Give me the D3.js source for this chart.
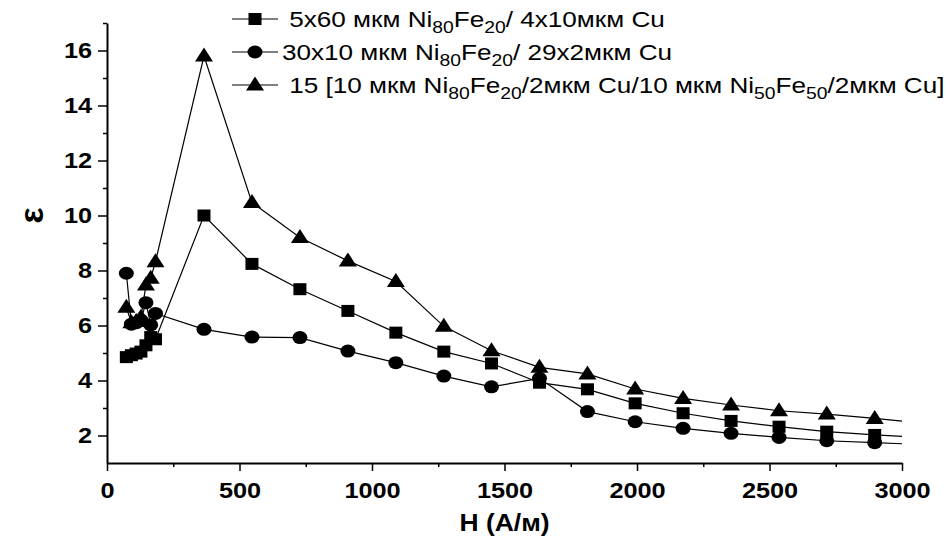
<!DOCTYPE html>
<html>
<head>
<meta charset="utf-8">
<script src="https://cdn.jsdelivr.net/npm/d3@7"></script>
<style>
  body { margin: 0; background: #fff; }
  svg { font-family: "Liberation Sans", Arial, sans-serif; }
</style>
</head>
<body>
<div id="chart"></div>
<script>
// field values, A/m
const hField = [73, 92, 110, 128, 147, 165, 183, 366, 547, 728, 909, 1090, 1271, 1451, 1632, 1813, 1993, 2174, 2355, 2536, 2716, 2897];

// 5x60 мкм Ni80Fe20 / 4x10 мкм Cu
const squareVals = [4.85, 4.92, 4.98, 5.05, 5.28, 5.58, 5.5, 10.0, 8.24, 7.32, 6.53, 5.74, 5.05, 4.62, 3.92, 3.68, 3.17, 2.81, 2.53, 2.32, 2.14, 2.02];
// 30x10 мкм Ni80Fe20 / 29x2 мкм Cu
const circleVals = [7.9, 6.05, 6.1, 6.2, 6.83, 6.02, 6.44, 5.86, 5.58, 5.56, 5.07, 4.65, 4.16, 3.77, 4.08, 2.87, 2.5, 2.26, 2.08, 1.93, 1.81, 1.74];
// 15 [10 мкм Ni80Fe20/2мкм Cu/10 мкм Ni50Fe50/2мкм Cu]
const triangleVals = [6.66, 6.1, 6.15, 6.3, 7.47, 7.72, 8.32, 15.8, 10.47, 9.2, 8.35, 7.6, 5.97, 5.08, 4.48, 4.24, 3.69, 3.35, 3.11, 2.9, 2.78, 2.62];

// lines run on to the end of the axis without a marker
const tailH = 3000;
const tailVals = [1.97, 1.7, 2.52]; // square, circle, triangle

const legendLabels = [
  " 5x60 мкм Ni_80Fe_20/ 4x10мкм Cu",
  "30x10 мкм Ni_80Fe_20/ 29x2мкм Cu",
  " 15 [10 мкм Ni_80Fe_20/2мкм Cu/10 мкм Ni_50Fe_50/2мкм Cu]"
];

const xTicks = [0, 500, 1000, 1500, 2000, 2500, 3000];
const xMinorTicks = [250, 750, 1250, 1750, 2250, 2750];
const yTicks = [2, 4, 6, 8, 10, 12, 14, 16];
const yMinorTicks = [3, 5, 7, 9, 11, 13, 15, 17];

const props = {
  width: 950,
  height: 538,
  top: 23,
  right: 48,
  bottom: 75,
  left: 107,
  stretch: 1.15 // the picture is a bit wider than tall
};

const svg = d3.select("#chart").append("svg")
  .attr("width", props.width)
  .attr("height", props.height);

const width = props.width - props.left - props.right;
const height = props.height - props.top - props.bottom;

const g = svg.append("g")
  .attr("transform", `translate(${props.left},${props.top})`);

const x = d3.scaleLinear().domain([0, 3000]).range([0, width]);
const y = d3.scaleLinear().domain([1, 17]).range([height, 0]);

// marker shapes
const markers = {
  square: sel => sel.append("rect").attr("x", -6.5).attr("y", -6).attr("width", 13).attr("height", 12),
  circle: sel => sel.append("ellipse").attr("rx", 7.5).attr("ry", 6.5),
  triangle: sel => sel.append("path").attr("d", "M0,-8.5L9,5.5L-9,5.5Z")
};

const series = [
  { name: "square", values: squareVals, tail: tailVals[0] },
  { name: "circle", values: circleVals, tail: tailVals[1] },
  { name: "triangle", values: triangleVals, tail: tailVals[2] }
];

// x axis
const xAxis = g.append("g")
  .attr("transform", `translate(0,${height})`)
  .call(d3.axisBottom(x).tickValues(xTicks).tickFormat(d3.format("d"))
    .tickSize(8).tickSizeOuter(0).tickPadding(11));
xAxis.selectAll("text")
  .attr("transform", `scale(${props.stretch},1)`)
  .style("font-size", "22px")
  .style("font-weight", "bold");

g.append("g")
  .attr("transform", `translate(0,${height})`)
  .call(d3.axisBottom(x).tickValues(xMinorTicks).tickSize(4).tickFormat(""))
  .select(".domain").remove();

// y axis
const yAxis = g.append("g")
  .call(d3.axisLeft(y).tickValues(yTicks).tickSize(9).tickSizeOuter(0));
yAxis.selectAll("text")
  .attr("x", -15 / props.stretch)
  .attr("transform", `scale(${props.stretch},1)`)
  .style("font-size", "22px")
  .style("font-weight", "bold");

g.append("g")
  .call(d3.axisLeft(y).tickValues(yMinorTicks).tickSize(4).tickFormat(""))
  .select(".domain").remove();

g.selectAll(".domain").attr("stroke-width", 2);
g.selectAll(".tick line").attr("stroke-width", 1.5);

// axis titles
g.append("text")
  .attr("transform", `translate(${width / 2},${height + 68}) scale(${props.stretch},1)`)
  .style("text-anchor", "middle")
  .style("font-size", "23px")
  .style("font-weight", "bold")
  .text("H (A/м)");

g.append("text")
  .attr("transform", `translate(${31 - props.left},${y(10)}) rotate(-90)`)
  .attr("dy", "0.35em")
  .style("text-anchor", "middle")
  .style("font-size", "34px")
  .style("font-weight", "bold")
  .text("ε");

// lines and markers
const line = d3.line().x(d => x(d[0])).y(d => y(d[1]));

series.forEach(s => {
  const pts = hField.map((h, i) => [h, s.values[i]]);
  g.append("path")
    .attr("fill", "none")
    .attr("stroke", "#000")
    .attr("stroke-width", 1.2)
    .attr("d", line(pts.concat([[tailH, s.tail]])));

  g.selectAll(".m-" + s.name)
    .data(pts)
    .enter().append("g")
    .attr("class", "m-" + s.name)
    .attr("transform", d => `translate(${x(d[0])},${y(d[1])})`)
    .call(markers[s.name]);
});

// legend
const legend = svg.append("g");
const rowY = [19, 52, 85];

series.forEach((s, i) => {
  const row = legend.append("g").attr("transform", `translate(0,${rowY[i]})`);
  row.append("line")
    .attr("x1", 232).attr("x2", 278)
    .attr("stroke", "#000").attr("stroke-width", 1.2);
  row.append("g").attr("transform", "translate(255,0)").call(markers[s.name]);

  const txt = row.append("text")
    .attr("transform", `translate(282,8) scale(${props.stretch},1)`)
    .attr("xml:space", "preserve")
    .style("white-space", "pre")
    .style("font-size", "22.7px");

  // split "Ni_80Fe" style labels into normal and subscript parts
  const parts = legendLabels[i].split(/_(\d+)/);
  let shifted = false;
  parts.forEach((p, k) => {
    if (!p) return;
    const sub = k % 2 === 1;
    const ts = txt.append("tspan").text(p);
    if (sub) {
      ts.style("font-size", "16.8px").attr("dy", shifted ? 0 : 6);
      shifted = true;
    } else if (shifted) {
      ts.attr("dy", -6);
      shifted = false;
    }
  });
});
</script>
</body>
</html>
